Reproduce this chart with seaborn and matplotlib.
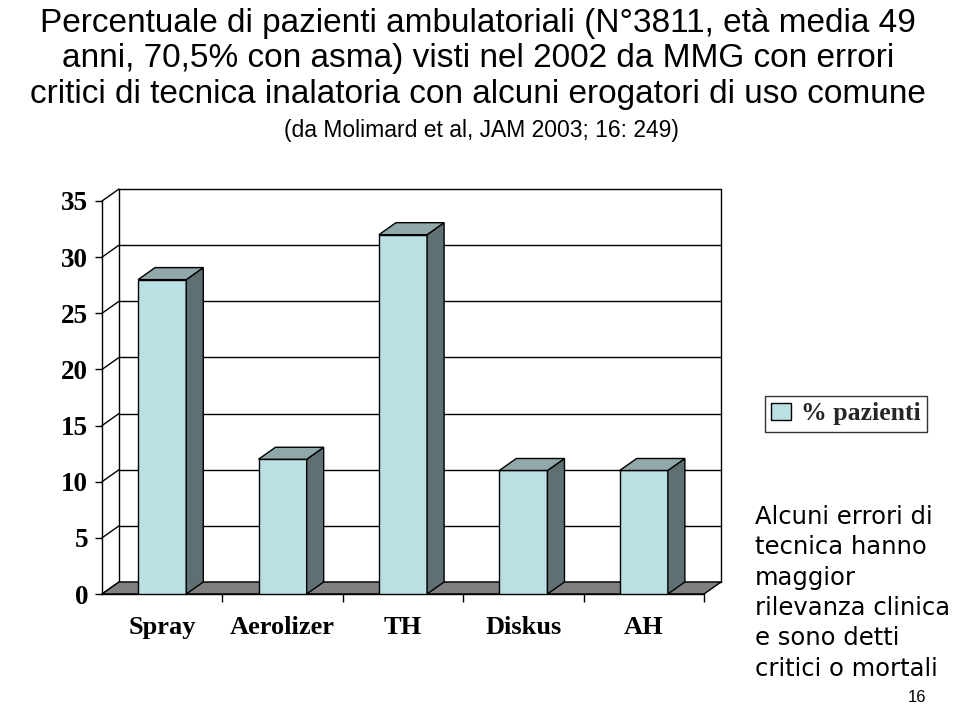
import matplotlib
matplotlib.use("Agg")
import matplotlib.pyplot as plt
from matplotlib.patches import Polygon, Patch
import pandas as pd
import seaborn as sns

# dati
erogatori = ["Spray", "Aerolizer", "TH", "Diskus", "AH"]
pazienti = [28, 12, 32, 11, 11]
y_ticks = [0, 5, 10, 15, 20, 25, 30, 35]
serie = "% pazienti"

title_lines = [
    "Percentuale di pazienti ambulatoriali (N°3811, età media 49",
    "anni, 70,5% con asma) visti nel 2002 da MMG con errori",
    "critici di tecnica inalatoria con alcuni erogatori di uso comune",
]
subtitle = "(da Molimard et al, JAM 2003; 16: 249)"
note_lines = [
    "Alcuni errori di",
    "tecnica hanno",
    "maggior",
    "rilevanza clinica",
    "e sono detti",
    "critici o mortali",
]
page_no = "16"

FRONT = "#bbe0e3"
SIDE = "#5f7072"
TOP = "#90a8aa"
FLOOR = "#808080"

sns.set_theme(style="white")
plt.rcParams["font.family"] = ["Liberation Sans", "DejaVu Sans"]

W, H = 960, 706
fig = plt.figure(figsize=(W / 100, H / 100), dpi=100)
ax = fig.add_axes([102 / W, 1 - 594 / H, (704 - 102) / W, (594 - 201) / H])

df = pd.DataFrame({"erogatore": erogatori, "pazienti": pazienti})
sns.barplot(data=df, x="erogatore", y="pazienti", color=FRONT, saturation=1,
            width=0.4, edgecolor="black", linewidth=1, ax=ax, zorder=4)
bars = list(ax.patches)

ax.set_xlim(-0.5, len(erogatori) - 0.5)
ax.set_ylim(0, 35)
x0, x1 = ax.get_xlim()
ytop = ax.get_ylim()[1]

# profondita' 3D (in unita' dati)
dx = 17 / 120.4
dy = 12 / 11.23

# parete di fondo e griglia
for v in y_ticks:
    ax.plot([x0 + dx, x1 + dx], [v + dy, v + dy], color="black", lw=1, clip_on=False, zorder=1)
    ax.plot([x0, x0 + dx], [v, v + dy], color="black", lw=1, clip_on=False, zorder=1)
ax.plot([x0 + dx, x0 + dx], [dy, ytop + dy], color="black", lw=1, clip_on=False, zorder=1)
ax.plot([x1 + dx, x1 + dx], [dy, ytop + dy], color="black", lw=1, clip_on=False, zorder=1)

# pavimento
ax.add_patch(Polygon([(x0, 0), (x1, 0), (x1 + dx, dy), (x0 + dx, dy)], closed=True,
                     facecolor=FLOOR, edgecolor="black", lw=1, clip_on=False, zorder=2))

# facce laterali e superiori delle barre
for p in bars:
    bx, bw, bh = p.get_x(), p.get_width(), p.get_height()
    ax.add_patch(Polygon([(bx + bw, 0), (bx + bw + dx, dy), (bx + bw + dx, bh + dy), (bx + bw, bh)],
                         closed=True, facecolor=SIDE, edgecolor="black", lw=1, clip_on=False, zorder=4))
    ax.add_patch(Polygon([(bx, bh), (bx + dx, bh + dy), (bx + bw + dx, bh + dy), (bx + bw, bh)],
                         closed=True, facecolor=TOP, edgecolor="black", lw=1, clip_on=False, zorder=4))

ax.set_xlabel("")
ax.set_ylabel("")
ax.set_yticks(y_ticks)
ax.set_xticks(range(len(erogatori)))
ax.set_xticklabels(erogatori)
ax.set_xticks([i + 0.5 for i in range(len(erogatori))], minor=True)
for s in ["top", "right"]:
    ax.spines[s].set_visible(False)
for s in ["left", "bottom"]:
    ax.spines[s].set_color("black")
    ax.spines[s].set_linewidth(1)
    ax.spines[s].set_zorder(3)
ax.tick_params(axis="y", left=True, length=5, width=1, color="black", pad=5, labelsize=19.5)
ax.tick_params(axis="x", which="major", bottom=True, length=0, pad=16, labelsize=19)
ax.tick_params(axis="x", which="minor", bottom=True, length=6, width=1, color="black")
for lbl in ax.get_xticklabels() + ax.get_yticklabels():
    lbl.set_fontfamily("Liberation Serif")
    lbl.set_fontweight("bold")
    lbl.set_color("black")

# legenda
leg = ax.legend(handles=[Patch(facecolor=FRONT, edgecolor="black", lw=1, label=serie)],
                loc="upper left", bbox_to_anchor=(765 / W, 1 - 396 / H), bbox_transform=fig.transFigure,
                borderaxespad=0, fancybox=False, frameon=True, handlelength=0.75, handleheight=0.62,
                handletextpad=0.4, borderpad=0.25,
                prop={"family": "Liberation Serif", "weight": "bold", "size": 18.5})
leg.get_frame().set_edgecolor("black")
leg.get_frame().set_linewidth(1)

# titolo
for i, line in enumerate(title_lines):
    fig.text(478 / W, 1 - (32 + 35.5 * i) / H, line, ha="center", va="baseline", fontsize=24, color="black")
fig.text(481 / W, 1 - 137 / H, subtitle, ha="center", va="baseline", fontsize=16.5, color="black")

# nota a destra
for i, line in enumerate(note_lines):
    fig.text(755 / W, 1 - (517 + 30.3 * i) / H, line, ha="left", va="center",
             fontsize=17.5, family="DejaVu Sans", color="black")
fig.text(917 / W, 1 - 697 / H, page_no, ha="center", va="center", fontsize=12,
         family="Liberation Sans", color="black")

fig.savefig("out.png", dpi=100)
